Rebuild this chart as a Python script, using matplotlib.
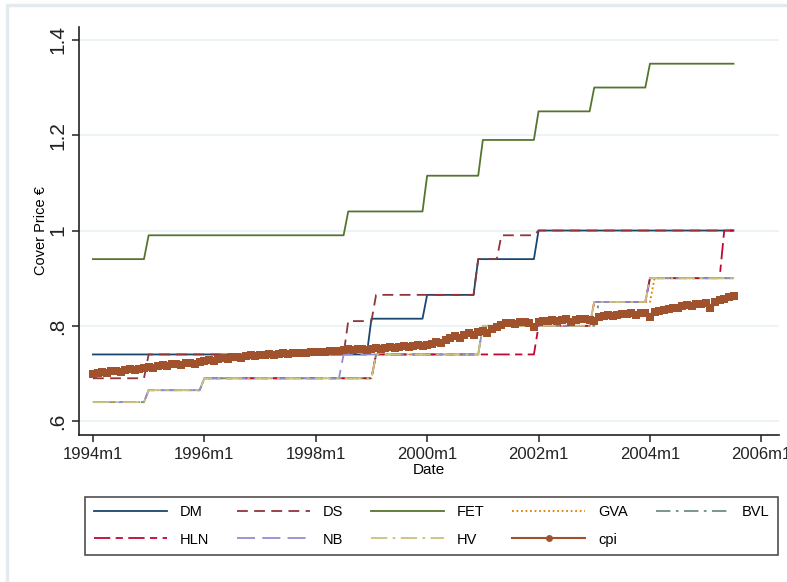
import numpy as np
import matplotlib
matplotlib.use('Agg')
from matplotlib import pyplot as plt
from matplotlib.patches import Rectangle

plt.rcParams['font.family'] = ['Liberation Sans', 'DejaVu Sans']

# monthly data, month 0 = 1994m1, last month = 2005m7
n_months = 139

# step series: month where a new cover price starts, and the price
dm_start = [0, 60, 72, 83, 96]
dm_price = [0.74, 0.815, 0.865, 0.94, 1.0]
ds_start = [0, 12, 55, 61, 83, 88, 96]
ds_price = [0.69, 0.74, 0.81, 0.865, 0.94, 0.99, 1.0]
fet_start = [0, 12, 55, 72, 84, 96, 108, 120]
fet_price = [0.94, 0.99, 1.04, 1.115, 1.19, 1.25, 1.30, 1.35]
gva_start = [0, 12, 24, 61, 84, 108, 121]
gva_price = [0.64, 0.665, 0.69, 0.74, 0.80, 0.85, 0.90]
bvl_start = [0, 12, 24, 61, 84, 109, 120]
bvl_price = [0.64, 0.665, 0.69, 0.74, 0.80, 0.85, 0.90]
hln_start = [24, 61, 96, 108, 120, 136]
hln_price = [0.69, 0.74, 0.80, 0.85, 0.90, 1.0]
nb_start = [0, 12, 24, 54, 84, 108, 120]
nb_price = [0.64, 0.665, 0.69, 0.74, 0.80, 0.85, 0.90]
hv_start = [0, 12, 24, 61, 84, 108, 120]
hv_price = [0.64, 0.665, 0.69, 0.74, 0.80, 0.85, 0.90]

cpi = [
    0.700, 0.701, 0.703, 0.702, 0.705, 0.706, 0.704, 0.708, 0.709, 0.707, 0.710, 0.712,
    0.713, 0.712, 0.716, 0.717, 0.715, 0.719, 0.720, 0.718, 0.722, 0.723, 0.721, 0.725,
    0.727, 0.728, 0.726, 0.730, 0.732, 0.731, 0.734, 0.735, 0.733, 0.737, 0.738, 0.737,
    0.738, 0.739, 0.740, 0.739, 0.741, 0.742, 0.741, 0.743, 0.744, 0.742, 0.744, 0.745,
    0.745, 0.746, 0.745, 0.747, 0.748, 0.747, 0.749, 0.751, 0.750, 0.752, 0.751, 0.750,
    0.752, 0.753, 0.752, 0.754, 0.755, 0.753, 0.756, 0.757, 0.756, 0.758, 0.759, 0.758,
    0.760, 0.762, 0.766, 0.764, 0.770, 0.774, 0.778, 0.775, 0.781, 0.784, 0.780, 0.788,
    0.790, 0.786, 0.794, 0.798, 0.801, 0.805, 0.807, 0.804, 0.808, 0.809, 0.806, 0.797,
    0.808, 0.810, 0.811, 0.812, 0.810, 0.813, 0.814, 0.808, 0.812, 0.814, 0.815, 0.813,
    0.810, 0.818, 0.821, 0.822, 0.820, 0.823, 0.825, 0.824, 0.826, 0.822, 0.827, 0.828,
    0.819, 0.830, 0.832, 0.833, 0.836, 0.838, 0.837, 0.841, 0.843, 0.842, 0.845, 0.846,
    0.848, 0.838, 0.850, 0.854, 0.857, 0.860, 0.863,
]

tick_months = [0, 24, 48, 72, 96, 120, 144]
tick_labels = ['1994m1', '1996m1', '1998m1', '2000m1', '2002m1', '2004m1', '2006m1']
y_ticks = [0.6, 0.8, 1.0, 1.2, 1.4]
y_labels = ['.6', '.8', '1', '1.2', '1.4']


def expand(starts, prices):
    y = np.full(n_months, np.nan)
    for s, p in zip(starts, prices):
        y[s:] = p
    return y


months = np.arange(n_months)

fig = plt.figure(figsize=(7.87, 5.82), dpi=100)
fig.patches.append(Rectangle((7 / 787, -0.1), 1.2, 1 - 5 / 582 + 0.1, transform=fig.transFigure,
                             fill=False, edgecolor='#e3ebef', linewidth=2.5, zorder=0))
ax = fig.add_axes([79 / 787, 1 - 435 / 582, 700 / 787, 408 / 582])

series = [
    ('DM', dm_start, dm_price, '#1a476f', '-'),
    ('DS', ds_start, ds_price, '#90353b', (0, (6, 3.5))),
    ('FET', fet_start, fet_price, '#55752f', '-'),
    ('GVA', gva_start, gva_price, '#e37e00', (0, (1, 1.5))),
    ('BVL', bvl_start, bvl_price, '#6e8e84', (0, (8, 3, 1.5, 3))),
    ('HLN', hln_start, hln_price, '#c10534', (0, (9, 3, 4, 3))),
    ('NB', nb_start, nb_price, '#938dd2', (0, (10, 4))),
    ('HV', hv_start, hv_price, '#cac27e', (0, (9, 3, 1.5, 3))),
]
handles = {}
for name, starts, prices, color, ls in series:
    line, = ax.plot(months, expand(starts, prices), color=color, linestyle=ls, linewidth=1.3, label=name)
    handles[name] = line
ax.plot(months, cpi, color='#a0522d', linewidth=3.2, marker='s', markersize=6,
        markeredgewidth=0, zorder=3)
# legend handle for cpi: thin line with small dot, as in the reference
handles['cpi'], = ax.plot([], [], color='#a0522d', linewidth=1.5, marker='o', markersize=5,
                          markeredgewidth=0)

ax.set_xlim(-3, 147.8)
ax.set_ylim(0.571, 1.427)
ax.set_xticks(tick_months)
ax.set_xticklabels(tick_labels, fontsize=12)
ax.set_yticks(y_ticks)
ax.set_yticklabels(y_labels, fontsize=15, rotation=90, va='center')
ax.yaxis.grid(True, color='#eaf2f3', linewidth=1.2)
ax.set_axisbelow(True)
for side in ['top', 'right']:
    ax.spines[side].set_visible(False)
for side in ['left', 'bottom']:
    ax.spines[side].set_color('#222222')
    ax.spines[side].set_linewidth(1.2)
ax.tick_params(direction='out', length=5, width=1.1, colors='#222222')
ax.set_xlabel('Date', fontsize=11, labelpad=1)
ax.set_ylabel('Cover Price €', fontsize=10.5, labelpad=0)

order = ['DM', 'HLN', 'DS', 'NB', 'FET', 'HV', 'GVA', 'cpi', 'BVL']
leg = fig.legend([handles[k] for k in order], order, ncol=5, mode='expand', loc='center',
                 bbox_to_anchor=(85 / 787, 1 - 560 / 582, 693 / 787, 68 / 582),
                 fontsize=10.5, handlelength=5, handletextpad=0.9, frameon=True, fancybox=False,
                 borderaxespad=0, borderpad=0.6, labelspacing=0.9)
leg.get_frame().set_edgecolor('#222222')
leg.get_frame().set_linewidth(1.2)

plt.savefig('out.png', dpi=100)
plt.close()
